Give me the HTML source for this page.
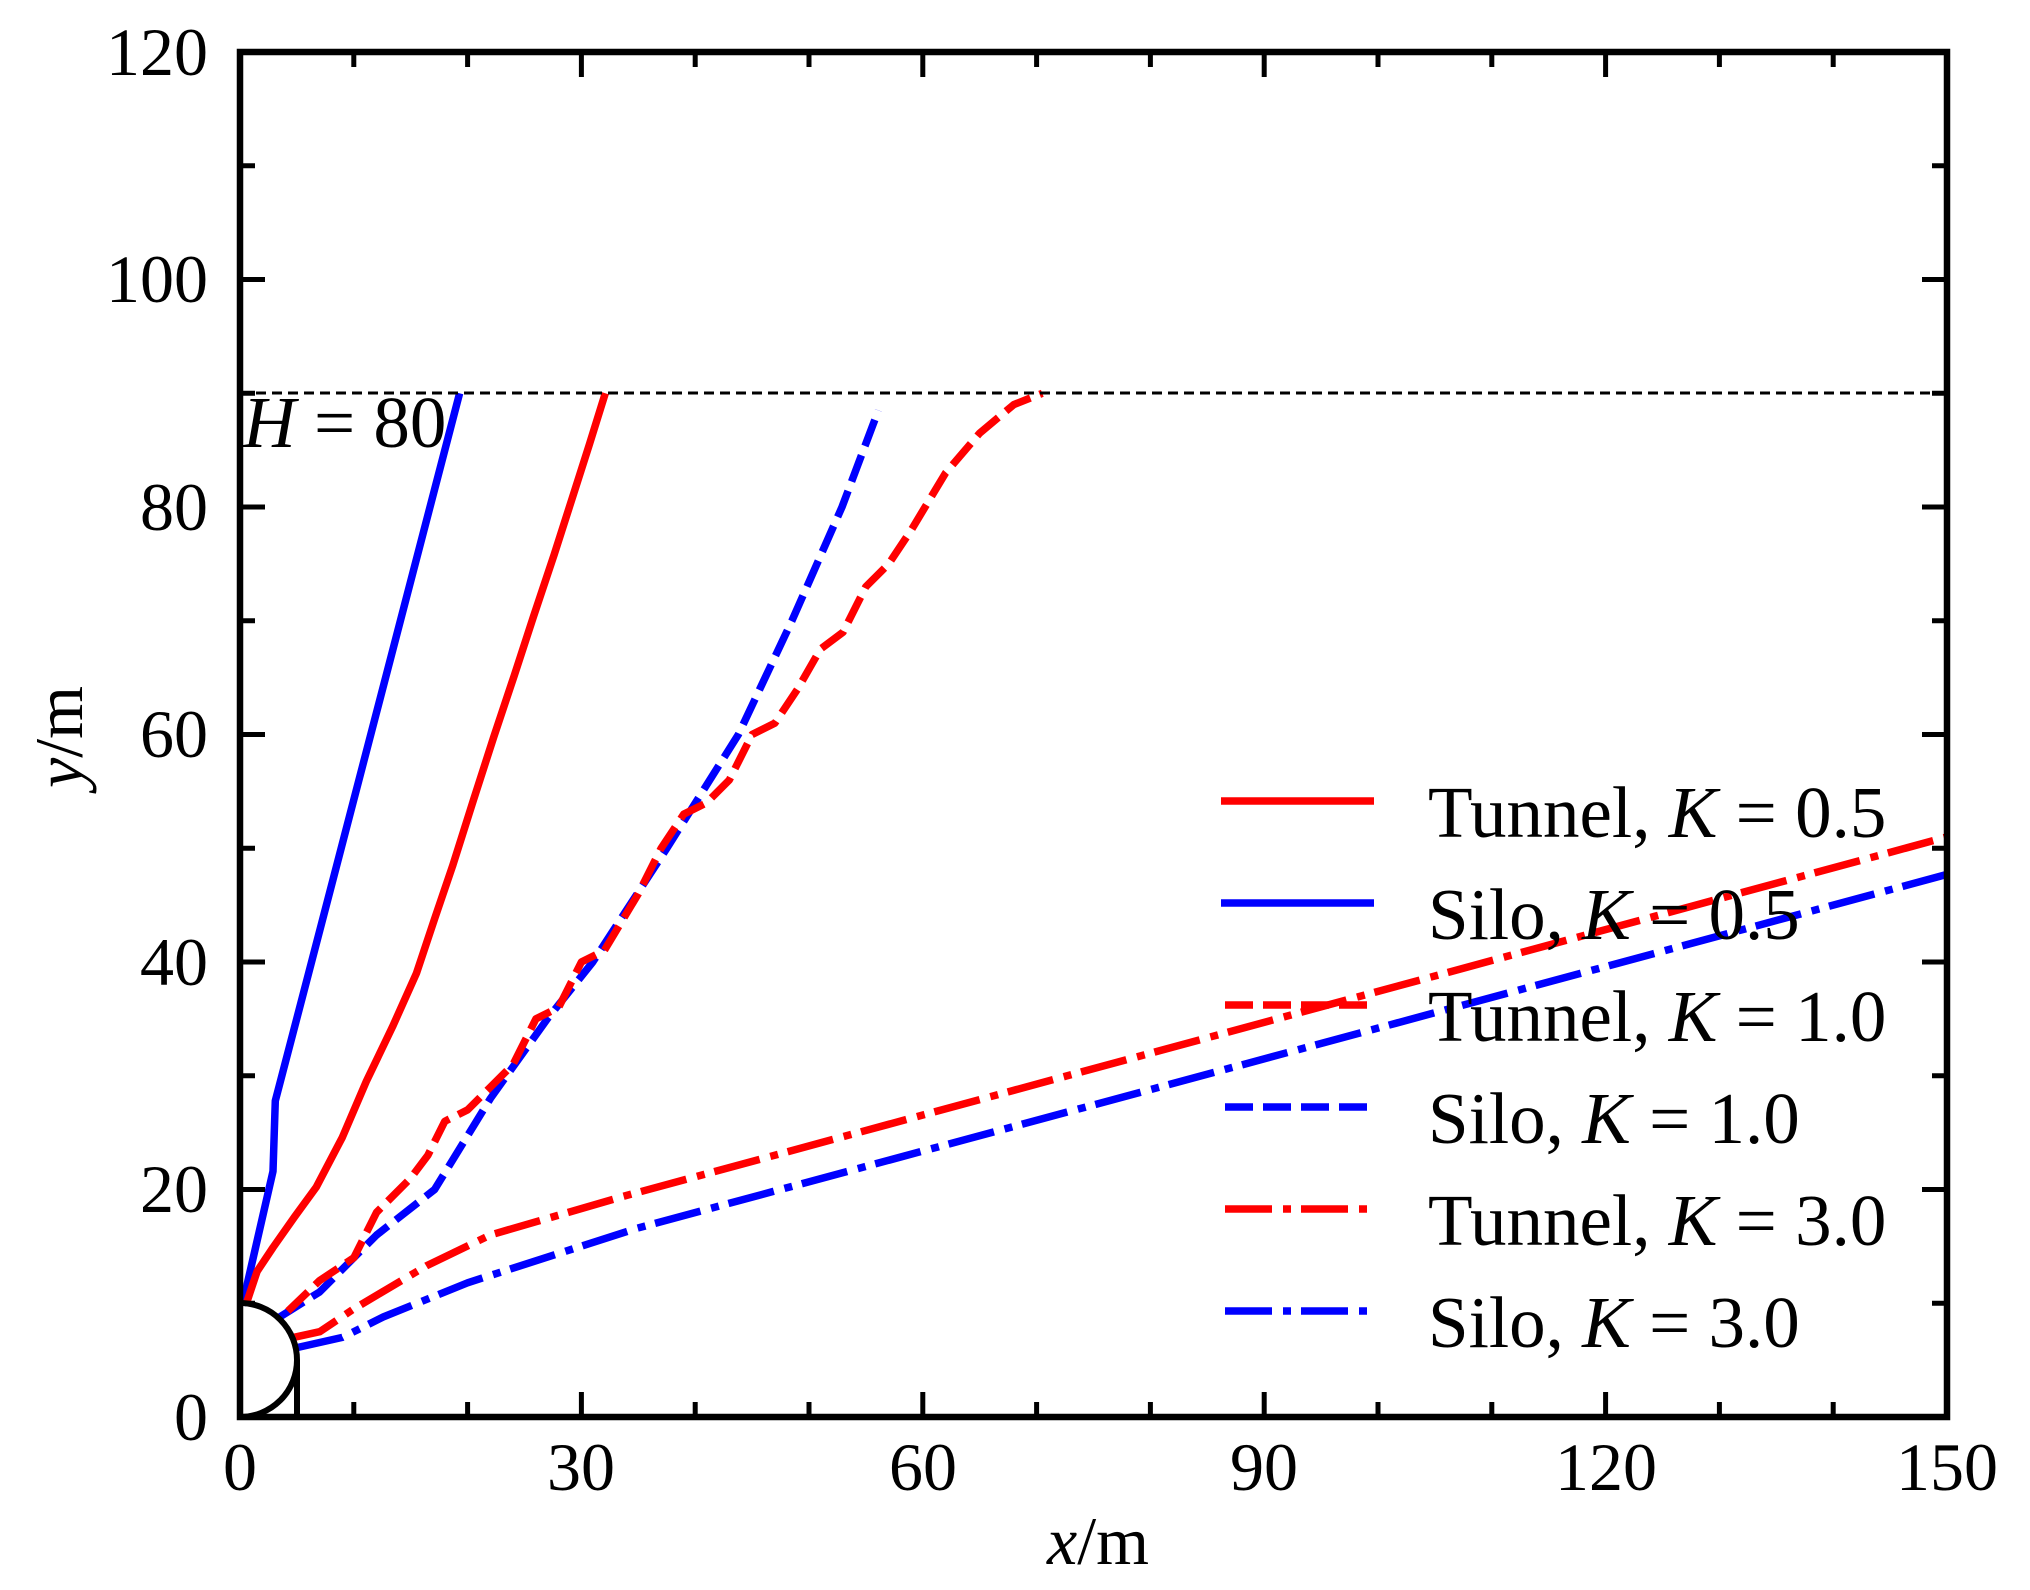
<!DOCTYPE html>
<html><head><meta charset="utf-8"><style>html,body{margin:0;padding:0;background:#fff}svg{display:block}</style></head>
<body>
<svg id="s" width="2030" height="1590" viewBox="0 0 2030 1590" xmlns="http://www.w3.org/2000/svg" font-family="Liberation Serif, serif">
<rect width="2030" height="1590" fill="#fff"/>
<g id="g"></g>
<line x1="240" y1="393" x2="1947" y2="393" stroke="#000" stroke-width="3" stroke-dasharray="10,6"/>
<text x="243" y="447" font-size="73"><tspan font-style="italic">H</tspan> = 80</text>
<g font-size="68" text-anchor="end">
<text x="208" y="1440">0</text><text x="208" y="1212">20</text><text x="208" y="985">40</text>
<text x="208" y="757">60</text><text x="208" y="530">80</text><text x="208" y="302">100</text><text x="208" y="75">120</text>
</g>
<g font-size="68" text-anchor="middle">
<text x="240" y="1490">0</text><text x="581" y="1490">30</text><text x="923" y="1490">60</text>
<text x="1264" y="1490">90</text><text x="1606" y="1490">120</text><text x="1947" y="1490">150</text>
<text x="1098" y="1564"><tspan font-style="italic">x</tspan>/m</text>
</g>
<text transform="translate(82,737) rotate(-90)" font-size="68" text-anchor="middle"><tspan font-style="italic">y</tspan>/m</text>
<g font-size="73">
<line x1="1221" y1="801" x2="1374" y2="801" stroke="#f00" stroke-width="7.5"/>
<text x="1428" y="837">Tunnel, <tspan font-style="italic">K</tspan> = 0.5</text>
<line x1="1221" y1="903" x2="1374" y2="903" stroke="#00f" stroke-width="7.5"/>
<text x="1428" y="939">Silo, <tspan font-style="italic">K</tspan> = 0.5</text>
<line x1="1225" y1="1005" x2="1367" y2="1005" stroke="#f00" stroke-width="7.5" stroke-dasharray="28,10"/>
<text x="1428" y="1041">Tunnel, <tspan font-style="italic">K</tspan> = 1.0</text>
<line x1="1225" y1="1107" x2="1367" y2="1107" stroke="#00f" stroke-width="7.5" stroke-dasharray="28,10"/>
<text x="1428" y="1143">Silo, <tspan font-style="italic">K</tspan> = 1.0</text>
<line x1="1225" y1="1209" x2="1367" y2="1209" stroke="#f00" stroke-width="7.5" stroke-dasharray="47,11,8,10"/>
<text x="1428" y="1245">Tunnel, <tspan font-style="italic">K</tspan> = 3.0</text>
<line x1="1225" y1="1311" x2="1367" y2="1311" stroke="#00f" stroke-width="7.5" stroke-dasharray="47,11,8,10"/>
<text x="1428" y="1347">Silo, <tspan font-style="italic">K</tspan> = 3.0</text>
</g>
<g id="ax"></g>
</svg>
<script>
var X=function(x){return 240+x*11.38},Y=function(y){return 1417-y*11.375};
function P(a){return a.map(function(p,i){return (i?'L':'M')+X(p[0]).toFixed(1)+','+Y(p[1]).toFixed(1)}).join('')}
var S=[
[[[0.2,9.8],[2.9,21.6],[3.1,27.8],[5.9,38.5],[19.3,90]],'#00f',''],
[[[0.5,9.8],[1.5,12.8],[2.9,14.9],[4.8,17.6],[6.7,20.2],[9,24.6],[11.1,29.5],[13.4,34.3],[15.5,39],[17.1,43.8],[18.7,48.5],[20.5,54.2],[22.3,59.8],[24.1,65.2],[25.8,70.4],[27.6,75.8],[29.3,81.1],[30.7,85.5],[32.1,90]],'#f00',''],
[[[3.5,8.8],[7,11],[12,16],[17.1,20],[22,28],[27,35],[31,40],[37.5,50],[43.8,60],[48.5,70],[52.9,80],[56.1,88.5]],'#00f','28,10'],
[[[4.2,9.3],[7,12],[10,14],[12,18],[15,21],[16.5,23],[18,26],[20,27],[22,29],[24,31],[26,35],[28,36],[30,40],[32,41],[35,46],[37,50],[39,53],[41,54],[43,56],[45,60],[47,61],[49,64],[51,67.5],[53,69],[55,73],[57,75],[59,78],[62,83],[65,86.5],[68,89],[70.5,90]],'#f00','28,10'],
[[[4.7,7],[7,7.5],[10,9.5],[16.4,13.3],[22,16],[33.7,19.4],[150,51]],'#f00','47,11,8,10'],
[[[5,6.1],[9,7],[12.6,8.8],[20,11.8],[34.9,16.6],[150,47.7]],'#00f','47,11,8,10']];
var h='';
S.forEach(function(s){h+='<path d="'+P(s[0])+'" fill="none" stroke="'+s[1]+'" stroke-width="7.5" stroke-linejoin="round"'+(s[2]?' stroke-dasharray="'+s[2]+'"':'')+'/>';});
document.getElementById('g').innerHTML=h;
var a='';
a+='<path d="M240,1303 A57,57 0 0 1 240,1417" fill="none" stroke="#000" stroke-width="6"/>';
a+='<line x1="297" y1="1360" x2="297" y2="1417" stroke="#000" stroke-width="6"/>';
for(var x=0;x<=150;x+=10){var m=x%30==0?25:15;a+='<line x1="'+X(x)+'" y1="1417" x2="'+X(x)+'" y2="'+(1417-m)+'" stroke="#000" stroke-width="5"/><line x1="'+X(x)+'" y1="52" x2="'+X(x)+'" y2="'+(52+m)+'" stroke="#000" stroke-width="5"/>';}
for(var y=0;y<=120;y+=10){var m=y%20==0?25:15;a+='<line x1="240" y1="'+Y(y)+'" x2="'+(240+m)+'" y2="'+Y(y)+'" stroke="#000" stroke-width="5"/><line x1="1947" y1="'+Y(y)+'" x2="'+(1947-m)+'" y2="'+Y(y)+'" stroke="#000" stroke-width="5"/>';}
a+='<rect x="240" y="52" width="1707" height="1365" fill="none" stroke="#000" stroke-width="6.5"/>';
document.getElementById('ax').innerHTML=a;
</script>
</body></html>
